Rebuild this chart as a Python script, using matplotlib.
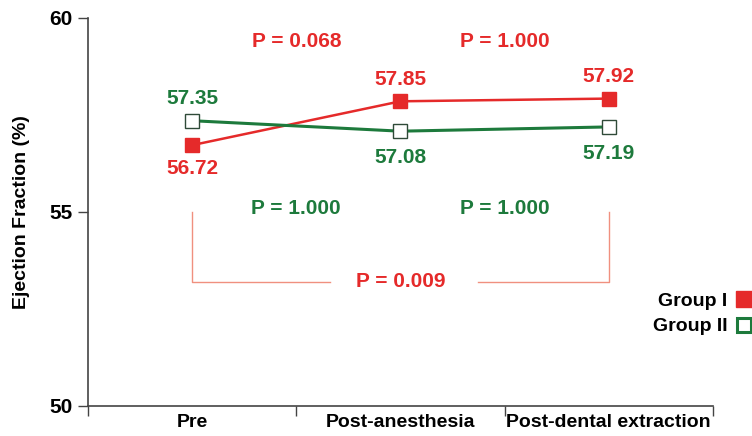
import matplotlib.pyplot as plt
from matplotlib.lines import Line2D

plt.rcParams['font.family'] = ['Liberation Sans', 'DejaVu Sans']
plt.rcParams['font.weight'] = 'bold'
plt.rcParams['axes.labelweight'] = 'bold'

# data
momentos = ['Pre', 'Post-anesthesia', 'Post-dental extraction']
grupo1 = [56.72, 57.85, 57.92]
grupo2 = [57.35, 57.08, 57.19]
p_grupo1 = ['P = 0.068', 'P = 1.000']
p_grupo2 = ['P = 1.000', 'P = 1.000']
p_total = 'P = 0.009'

ROJO = '#e52a2a'
VERDE = '#1d7a3c'
SALMON = '#f0907f'
FS = 15

fig = plt.figure(figsize=(7.52, 4.36), dpi=100)
ax = fig.add_axes([0.117, 0.069, 0.831, 0.89])

x = list(range(len(momentos)))

# lineas
ax.plot(x, grupo1, '-', color=ROJO, lw=1.8, marker='s', markersize=10,
        markerfacecolor=ROJO, markeredgecolor=ROJO, zorder=3)
ax.plot(x, grupo2, '-', color=VERDE, lw=2.2, marker='s', markersize=9.5,
        markerfacecolor='white', markeredgecolor='#2f4a38', markeredgewidth=1.0,
        zorder=3)

# etiquetas de valores
for i, (a, b) in enumerate(zip(grupo1, grupo2)):
    if a > b:
        ax.annotate(f'{a:.2f}', (i, a), xytext=(0, 9), textcoords='offset points',
                    ha='center', va='bottom', color=ROJO, fontsize=FS)
        ax.annotate(f'{b:.2f}', (i, b), xytext=(0, -12), textcoords='offset points',
                    ha='center', va='top', color=VERDE, fontsize=FS)
    else:
        ax.annotate(f'{b:.2f}', (i, b), xytext=(0, 9), textcoords='offset points',
                    ha='center', va='bottom', color=VERDE, fontsize=FS)
        ax.annotate(f'{a:.2f}', (i, a), xytext=(0, -10), textcoords='offset points',
                    ha='center', va='top', color=ROJO, fontsize=FS)

# valores P entre momentos
for i in range(len(p_grupo1)):
    ax.text(i + 0.5, 59.4, p_grupo1[i], ha='center', va='center',
            color=ROJO, fontsize=FS)
    ax.text(i + 0.5, 55.1, p_grupo2[i], ha='center', va='center',
            color=VERDE, fontsize=FS)

# corchete Pre vs Post-dental
y_top, y_bot = 55.0, 53.2
ax.plot([0, 0, 0.66], [y_top, y_bot, y_bot], color=SALMON, lw=1.0)
ax.plot([1.37, 2, 2], [y_bot, y_bot, y_top], color=SALMON, lw=1.0)
ax.text(1.0, y_bot, p_total, ha='center', va='center', color=ROJO, fontsize=FS)

# ejes
ax.set_xlim(-0.5, 2.5)
ax.set_ylim(50, 60)
ax.set_yticks([50, 55, 60])
ax.set_xticks([-0.5, 0.5, 1.5, 2.5])
ax.set_xticklabels([])
ax.set_xticks(x, minor=True)
ax.set_xticklabels(momentos, minor=True, fontsize=14)
ax.tick_params(axis='x', which='minor', length=0, pad=6)
ax.tick_params(axis='x', which='major', length=7, width=1, color='#444444')
ax.tick_params(axis='y', length=7, width=1, color='#444444', labelsize=15, pad=4)
for s in ['top', 'right']:
    ax.spines[s].set_visible(False)
for s in ['left', 'bottom']:
    ax.spines[s].set_color('#444444')
    ax.spines[s].set_linewidth(1.2)
ax.set_ylabel('Ejection Fraction (%)', fontsize=14, labelpad=14)

# leyenda
handles = [
    Line2D([], [], ls='none', marker='s', markersize=11, markerfacecolor=ROJO,
           markeredgecolor=ROJO, label='Group I'),
    Line2D([], [], ls='none', marker='s', markersize=10, markerfacecolor='white',
           markeredgecolor=VERDE, markeredgewidth=2.2, label='Group II'),
]
leg = fig.legend(handles=handles, loc='center left', bbox_to_anchor=(0.845, 0.28),
                 frameon=False, markerfirst=False, fontsize=14, handletextpad=0.35,
                 labelspacing=0.4, handlelength=1.0)

plt.savefig('out.png', dpi=100)
